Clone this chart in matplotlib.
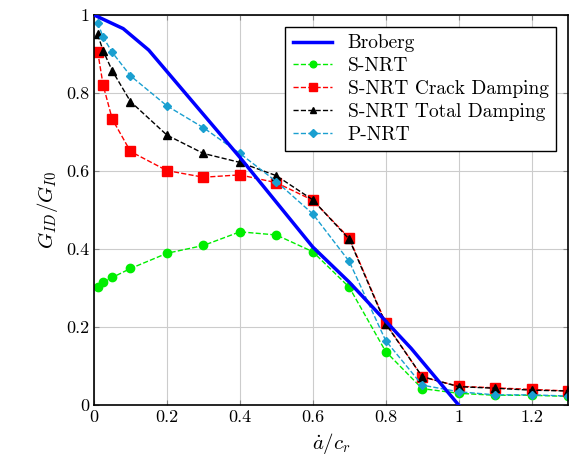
import matplotlib
matplotlib.use("agg")
import matplotlib.pyplot as plt

plt.rcParams['font.family'] = 'serif'
plt.rcParams['font.serif'] = ['cmr10', 'DejaVu Serif']
plt.rcParams['mathtext.fontset'] = 'cm'
plt.rcParams['axes.formatter.use_mathtext'] = True

# Broberg analytical curve
x_brob = [0.0, 0.08, 0.15, 0.2, 0.3, 0.4, 0.5, 0.6, 0.7, 0.8, 0.87, 1.0]
g_brob = [1.0, 0.965, 0.91, 0.855, 0.745, 0.635, 0.52, 0.405, 0.315, 0.215, 0.145, 0.0]

# simulation speeds
x_sim = [0.01, 0.025, 0.05, 0.1, 0.2, 0.3, 0.4, 0.5, 0.6, 0.7, 0.8, 0.9, 1.0, 1.1, 1.2, 1.3]
g_snrt = [0.303, 0.315, 0.327, 0.35, 0.389, 0.409, 0.444, 0.436, 0.393, 0.302, 0.137, 0.042, 0.03, 0.025, 0.025, 0.022]
g_crack = [0.906, 0.82, 0.733, 0.65, 0.601, 0.584, 0.59, 0.57, 0.525, 0.428, 0.21, 0.072, 0.048, 0.044, 0.04, 0.036]
g_total = [0.95, 0.908, 0.857, 0.778, 0.692, 0.645, 0.622, 0.588, 0.526, 0.425, 0.208, 0.073, 0.047, 0.043, 0.038, 0.036]
g_pnrt = [0.98, 0.943, 0.904, 0.844, 0.767, 0.711, 0.645, 0.573, 0.49, 0.368, 0.165, 0.051, 0.034, 0.026, 0.026, 0.023]

fig = plt.figure(figsize=(5.79, 4.68), dpi=100)
ax = fig.add_axes([0.1624, 0.1346, 0.8186, 0.8334])

ax.plot(x_brob, g_brob, color='#0000ff', lw=2.5, label='Broberg', zorder=3)
ax.plot(x_sim, g_snrt, '--', color='#00ee00', marker='o', ms=6, lw=1, label='S-NRT')
ax.plot(x_sim, g_crack, '--', color='#ff0000', marker='s', ms=7, lw=1, label='S-NRT Crack Damping')
ax.plot(x_sim, g_total, '--', color='black', marker='^', ms=6, lw=1, label='S-NRT Total Damping')
ax.plot(x_sim, g_pnrt, '--', color='#1a9fd0', marker='D', ms=4.5, lw=1, label='P-NRT')

ax.set_xlim(0, 1.3)
ax.set_ylim(0, 1)
ax.set_xticks([0, 0.2, 0.4, 0.6, 0.8, 1.0, 1.2])
ax.set_xticklabels(['0', '0.2', '0.4', '0.6', '0.8', '1', '1.2'])
ax.set_yticks([0, 0.2, 0.4, 0.6, 0.8, 1.0])
ax.set_yticklabels(['0', '0.2', '0.4', '0.6', '0.8', '1'])
ax.tick_params(direction='in', top=True, right=True, labelsize=13, color='#888888')
ax.grid(True, color='#cccccc', lw=0.8)
ax.set_axisbelow(True)
for s in ax.spines.values():
    s.set_linewidth(1.2)

ax.set_xlabel(r'$\dot{a}/c_r$', fontsize=15)
ax.set_ylabel(r'$G_{ID}/G_{I0}$', fontsize=15)

leg = ax.legend(loc='upper right', fontsize=14, fancybox=False, framealpha=1,
                edgecolor='black', handlelength=2.0, labelspacing=0.25,
                borderaxespad=0.6, markerscale=0.8)
leg.get_frame().set_linewidth(1.0)

plt.savefig('out.png', format='png')
plt.close()
